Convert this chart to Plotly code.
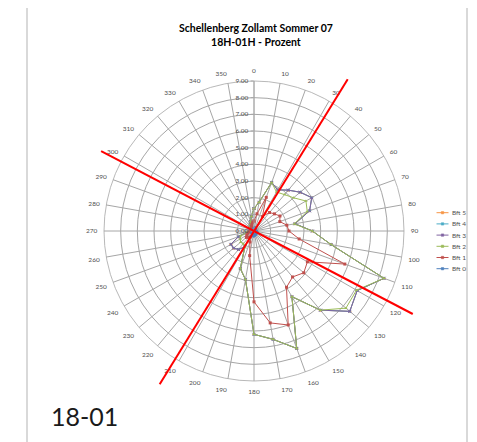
import numpy as np
import plotly.graph_objects as go

# ---------------- data ----------------
directions = list(range(0, 360, 10))
direction_labels = [str(d) for d in directions]
radial_ticks = [0, 1, 2, 3, 4, 5, 6, 7, 8, 9]

bft0 = [0.15, 0.2, 0.2, 0.15, 0.15, 0.1, 0.1, 0.1, 0.1, 0.1, 0.15, 0.2,
        0.2, 0.2, 0.2, 0.2, 0.25, 0.25, 0.3, 0.3, 0.25, 0.2, 0.2, 0.15,
        0.15, 0.1, 0.1, 0.1, 0.05, 0.05, 0.05, 0.05, 0.1, 0.1, 0.1, 0.1]
bft1 = [0.6, 1.05, 2.15, 1.0, 1.45, 1.6, 1.8, 1.65, 2.0, 2.1, 2.75, 5.8,
        3.7, 3.9, 3.6, 3.9, 6.0, 5.6, 4.25, 1.5, 0.7, 0.4, 0.5, 0.6,
        0.5, 0.4, 0.3, 0.2, 0.1, 0.1, 0.1, 0.1, 0.2, 0.3, 0.4, 0.5]
bft2 = [1.35, 1.75, 3.1, 2.7, 2.85, 3.1, 3.6, 3.4, 2.45, 3.5, 4.7, 8.3,
        7.1, 7.2, 6.2, 4.55, 7.5, 6.6, 6.2, 2.95, 2.4, 1.1, 1.0, 1.05,
        0.95, 0.85, 0.45, 0.25, 0.2, 0.2, 0.2, 0.3, 0.35, 0.45, 0.6, 0.9]
bft3 = [1.35, 1.75, 3.1, 2.85, 3.2, 3.62, 4.0, 3.55, 2.5, 3.5, 4.7, 8.3,
        7.15, 7.5, 6.2, 4.55, 7.5, 6.6, 6.2, 2.95, 2.4, 1.1, 1.45, 1.6,
        1.6, 1.0, 0.45, 0.25, 0.2, 0.2, 0.2, 0.3, 0.35, 0.45, 0.6, 0.9]
bft4 = [1.35, 1.75, 3.1, 2.85, 3.2, 3.62, 4.0, 3.55, 2.5, 3.5, 4.7, 8.3,
        7.15, 7.5, 6.2, 4.55, 7.5, 6.6, 6.2, 2.95, 2.4, 1.1, 1.45, 1.6,
        1.6, 1.0, 0.45, 0.25, 0.2, 0.2, 0.2, 0.3, 0.35, 0.45, 0.6, 0.9]
bft5 = [1.35, 1.75, 3.1, 2.85, 3.2, 3.62, 4.0, 3.55, 2.5, 3.5, 4.7, 8.3,
        7.15, 7.5, 6.2, 4.55, 7.5, 6.6, 6.2, 2.95, 2.4, 1.1, 1.45, 1.6,
        1.6, 1.0, 0.45, 0.25, 0.2, 0.2, 0.2, 0.3, 0.35, 0.45, 0.6, 0.9]

series_names = ["Bft 5", "Bft 4", "Bft 3", "Bft 2", "Bft 1", "Bft 0"]
series_values = [bft5, bft4, bft3, bft2, bft1, bft0]

title_text = "<b>Schellenberg Zollamt Sommer 07<br>18H-01H - Prozent</b>"
footer_text = "18-01"

# ---------------- styling / layout constants ----------------
OFF = 8                                   # default page margin of the html body
W, H = 477 - OFF, 442 - OFF               # figure size
CX, CY, R = 254.0, 231.0, 150.0           # polar centre / radius (page pixels)
RMAX = 9.0
colors = ["#F79646", "#4BACC6", "#8064A2", "#9BBB59", "#C0504D", "#4F81BD"]
symbols = ["circle", "star", "x-thin-open", "triangle-up", "square", "diamond"]
grid_color = "#A6A6A6"
label_color = "#505050"
# reference (red) lines: (angle_a, length_a, angle_b, length_b) in polar units
ref_lines = [(31.7, 10.7, 211.6, 10.8), (297.6, 10.35, 117.6, 10.75)]


def px(x):
    return (x - OFF) / W


def py(y):
    return 1 - (y - OFF) / H


fig = go.Figure()

for name, vals, col, sym in zip(series_names, series_values, colors, symbols):
    fig.add_trace(go.Scatterpolar(
        r=vals + vals[:1],
        theta=directions + directions[:1],
        mode="lines+markers",
        name=name,
        line=dict(color=col, width=1),
        marker=dict(color=col, size=3, symbol=sym),
        showlegend=False,
    ))

# invisible cartesian overlay whose scale matches the polar radial scale
u = R / RMAX
fig.add_trace(go.Scatter(x=[], y=[], xaxis="x", yaxis="y", showlegend=False,
                         hoverinfo="skip"))

shapes = []
for a1, l1, a2, l2 in ref_lines:
    t1, t2 = np.radians(a1), np.radians(a2)
    shapes.append(dict(type="line", xref="x", yref="y",
                       x0=l1 * np.sin(t1), y0=l1 * np.cos(t1),
                       x1=l2 * np.sin(t2), y1=l2 * np.cos(t2),
                       line=dict(color="#FF0000", width=2), layer="above"))

# outer frame
shapes.append(dict(type="rect", xref="paper", yref="paper",
                   x0=px(27), x1=px(467), y0=-0.1, y1=py(4.5),
                   line=dict(color="#B3B3B3", width=1), layer="below"))

# manual legend
annotations = []
leg_y0, leg_dy = 212.7, 11.2
for i, (name, col) in enumerate(zip(series_names, colors)):
    yy = leg_y0 + i * leg_dy
    shapes.append(dict(type="line", xref="paper", yref="paper",
                       x0=px(436.5), x1=px(448.5), y0=py(yy), y1=py(yy),
                       line=dict(color=col, width=1)))
    shapes.append(dict(type="rect", xref="paper", yref="paper",
                       x0=px(441.3), x1=px(443.7), y0=py(yy - 1.2), y1=py(yy + 1.2),
                       line=dict(color=col, width=0.5), fillcolor=col))
    annotations.append(dict(text=name, xref="paper", yref="paper",
                            x=px(450), y=py(yy), xanchor="left", yanchor="middle",
                            showarrow=False,
                            font=dict(family="Lato, Arial", size=6.5, color=label_color)))

# title
annotations.append(dict(text=title_text, xref="paper", yref="paper",
                        x=px(256), y=py(34.7), xanchor="center", yanchor="middle",
                        showarrow=False, align="center",
                        font=dict(family="Lato, Arial", size=10.5, color="#000000")))

annotations.append(dict(text=footer_text, xref="paper", yref="paper",
                        x=px(49), y=py(416), xanchor="left", yanchor="middle",
                        showarrow=False,
                        font=dict(family="Lato, Arial", size=25, color="#1a1a1a")))

fig.update_layout(
    width=W, height=H, autosize=False,
    margin=dict(l=0, r=0, t=0, b=0),
    paper_bgcolor="white", plot_bgcolor="rgba(0,0,0,0)",
    xaxis=dict(domain=[0, 1], range=[(OFF - CX) / u, (OFF + W - CX) / u],
               visible=False, fixedrange=True),
    yaxis=dict(domain=[0, 1], range=[(CY - OFF - H) / u, (CY - OFF) / u],
               visible=False, fixedrange=True),
    polar=dict(
        domain=dict(x=[px(CX - R), px(CX + R)], y=[py(CY + R), py(CY - R)]),
        bgcolor="white",
        angularaxis=dict(
            rotation=90, direction="clockwise",
            tickmode="array", tickvals=directions, ticktext=direction_labels,
            showgrid=True, gridcolor=grid_color, gridwidth=0.8,
            showline=True, linecolor=grid_color, linewidth=0.8,
            ticks="outside", ticklen=5, tickcolor="rgba(0,0,0,0)",
            tickfont=dict(family="Lato, Arial", size=6.5, color=label_color),
        ),
        radialaxis=dict(
            range=[0, RMAX], tickmode="array", tickvals=radial_ticks,
            tickformat=".2f", angle=90, tickangle=90, side="counterclockwise",
            showgrid=True, gridcolor=grid_color, gridwidth=0.8,
            showline=True, linecolor=grid_color, linewidth=0.8,
            ticks="outside", ticklen=3, tickcolor=grid_color,
            tickfont=dict(family="Lato, Arial", size=6.5, color=label_color),
        ),
    ),
    shapes=shapes,
    annotations=annotations,
)

fig.write_html("out.html")
